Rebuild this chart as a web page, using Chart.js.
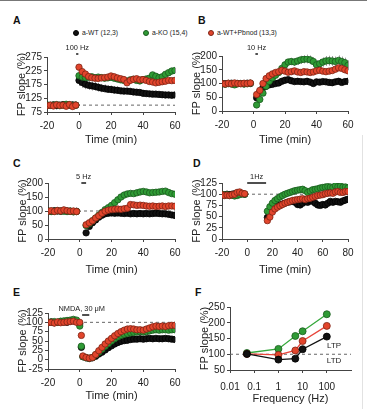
<!DOCTYPE html>
<html lang="en">
<head>
<meta charset="UTF-8">
<title>FP slope panels</title>
<script src="https://cdn.jsdelivr.net/npm/chart.js"></script>
<style>
  body { margin: 0; background: #fff; font-family: "Liberation Sans", Arial, Helvetica, sans-serif; }
  #fig { position: relative; width: 367px; height: 409px; overflow: hidden; }
  #fig canvas { position: absolute; }
  .frameTop { position: absolute; left: 0; top: 0; width: 367px; height: 1px; background: #777; }
  .frameRight { position: absolute; left: 362px; top: 135px; width: 1px; height: 274px; background: #e2e2e2; }
  .letter { position: absolute; font-weight: bold; font-size: 10.5px; line-height: 11px; color: #111; }
  .leg { position: absolute; top: 29px; font-size: 6.8px; line-height: 8px; color: #222; white-space: nowrap; }
  .leg i { position: absolute; left: -9px; top: 1px; width: 6px; height: 6px; border-radius: 50%; box-sizing: border-box; }
</style>
</head>
<body>
<div id="fig">
  <div class="frameTop"></div>
  <div class="frameRight"></div>
  <div class="letter" style="left:13px;top:15px">A</div>
  <div class="letter" style="left:198px;top:15px">B</div>
  <div class="letter" style="left:13px;top:158px">C</div>
  <div class="letter" style="left:193px;top:158px">D</div>
  <div class="letter" style="left:13px;top:287px">E</div>
  <div class="letter" style="left:195px;top:287px">F</div>
</div>

<script>
// ---------- data ----------
const seriesNames = ['a-WT (12,3)', 'a-KO (15,4)', 'a-WT+Pbnod (13,3)'];
const baselineLevel = 100;

// A - 100 Hz
const timeA = [-20,-18,-16,-14,-12,-10,-8,-6,-4,-2,0,2,4,6,8,10,12,14,16,18,20,22,24,26,28,30,32,34,36,38,40,42,44,46,48,50,52,54,56,58,60];
const wtA = [100,99,101,98,100,102,99,100,101,100, 190,182,176,172,170,168,165,162,160,158,157,155,154,152,151,151,150,148,147,146,143,142,141,140,140,139,138,137,137,136,137];
const koA = [101,99,100,102,98,100,103,101,99,100, 207,202,200,201,203,200,202,200,198,199,201,198,195,192,190,187,192,194,190,188,193,195,198,210,205,200,203,212,218,224,226];
const pbA = [98,100,97,101,99,100,96,102,95,100, 238,222,213,204,200,198,197,199,200,202,206,203,199,196,193,181,190,194,196,192,193,190,186,184,181,183,185,187,190,189,190];
const wtErrA = [4,4,4,4,4,4,4,4,4,4, 20,19,18,17,17,16,16,15,15,14,14,13,13,13,12,12,12,11,11,11,11,10,10,10,10,10,9,9,9,9,9];
const koErrA = [4,4,4,4,4,4,4,4,4,4, 9,9,8,8,8,8,8,8,8,8,8,8,8,8,8,9,9,9,9,9,9,9,9,10,10,10,10,10,10,10,10];

// B - 10 Hz
const timeB = [-20,-18,-16,-14,-12,-10,-8,-6,-4,-2,2,4,6,8,10,12,14,16,18,20,22,24,26,28,30,32,34,36,38,40,42,44,46,48,50,52,54,56,58,60];
const wtB = [100,99,100,101,99,100,100,99,101,100, 48,70,85,90,95,97,100,102,108,112,114,110,107,108,107,106,108,105,100,106,105,107,106,104,103,106,108,104,107,108];
const koB = [99,97,100,98,95,99,100,98,99,101, 22,42,65,90,108,120,130,140,155,168,178,180,178,182,186,188,189,186,180,168,172,178,182,183,182,180,184,180,176,166];
const pbB = [100,98,101,99,102,100,99,101,100,102, 60,75,100,118,128,135,140,143,148,145,141,143,146,142,140,143,142,140,142,146,148,145,143,145,147,152,157,155,150,146];
const wtErrB = [3,3,3,3,3,3,3,3,3,3, 5,5,5,5,5,5,5,5,6,6,6,6,6,6,6,6,6,6,7,7,7,7,7,7,7,7,7,7,7,7];
const koErrB = [4,4,4,4,4,4,4,4,4,4, 6,6,6,6,7,7,8,8,9,10,12,13,14,14,15,15,16,16,16,17,17,17,18,18,18,18,18,18,18,18];

// C - 5 Hz
const timeC = [-20,-18,-16,-14,-12,-10,-8,-6,-4,-2,4,6,8,10,12,14,16,18,20,22,24,26,28,30,32,34,36,38,40,42,44,46,48,50,52,54,56,58,60];
const wtC = [100,99,101,100,99,102,100,99,98,99, 22,45,58,68,78,85,90,92,93,92,93,92,91,92,90,91,90,91,90,91,90,91,92,91,90,90,88,86,84];
const koC = [100,98,99,101,100,99,98,100,97,98, 48,55,65,75,85,95,105,112,120,130,140,150,157,161,163,162,165,168,170,168,165,166,167,168,170,171,166,162,160];
const pbC = [99,101,98,102,100,104,101,99,100,98, 51,58,65,75,83,92,99,103,105,106,107,106,108,110,123,122,120,121,120,118,117,118,116,117,118,116,118,118,117];

// D - 1 Hz
const timeD = [-20,-18,-16,-14,-12,-10,-8,-6,-4,-2,16,18,20,22,24,26,28,30,32,34,36,38,40,42,44,46,48,50,52,54,56,58,60,62,64,66,68,70,72,74,76,78,80];
const wtD = [99,98,100,99,100,101,100,102,101,100, 48,58,65,70,73,76,78,80,82,83,84,82,77,76,80,84,82,85,84,80,76,75,77,76,80,84,82,84,83,82,85,87,89];
const koD = [100,98,99,97,98,96,97,99,101,100, 62,72,80,86,90,94,97,100,102,104,106,108,109,110,111,108,104,107,110,111,112,114,115,116,117,116,115,119,117,118,116,116,114];
const pbD = [99,97,98,97,99,100,104,105,102,101, 41,49,60,67,71,74,77,80,82,84,86,87,88,89,90,88,90,91,93,95,97,98,99,101,102,103,102,105,106,104,104,106,106];

// E - NMDA 30 uM
const timeE = [-20,-18,-16,-14,-12,-10,-8,-6,-4,-2,0,1,2,4,6,8,10,12,14,16,18,20,22,24,26,28,30,32,34,36,38,40,42,44,46,48,50,52,54,56,58,60];
const wtE = [100,101,99,100,102,101,100,103,104,102, 96,33,8,5,3,5,9,15,20,26,32,37,42,46,49,51,52,54,55,55,56,55,56,57,56,57,56,56,57,56,55,54];
const koE = [100,101,102,100,103,104,105,106,108,106, 90,36,8,5,4,6,13,20,28,36,43,50,56,61,65,68,70,72,73,74,75,74,75,77,79,80,79,80,80,79,80,80];
const pbE = [99,100,98,101,99,100,101,102,103,100, 100,65,10,6,4,6,14,24,33,42,50,57,64,70,75,79,82,83,82,80,80,79,82,85,88,90,89,90,89,91,92,92];
const wtErrE = [3,3,3,3,3,3,3,3,3,3, 5,6,5,4,4,4,5,6,6,7,7,7,8,8,8,8,8,8,8,8,8,8,8,8,7,7,7,7,7,7,7,7];
const koErrE = [3,3,3,3,3,3,3,3,3,3, 6,6,5,4,4,4,5,5,6,6,6,6,7,7,7,7,7,7,7,7,7,7,7,7,7,7,7,7,7,7,7,7];
const pbErrE = [3,3,3,3,3,3,3,3,3,3, 4,6,5,4,4,4,5,5,6,6,6,6,6,6,6,6,6,6,6,6,6,6,6,6,6,6,6,6,6,6,6,6];

// F - summary vs stimulation frequency
const freqF = [0.05, 1, 5, 10, 100];
const freqTicks = [0.01, 0.1, 1, 10, 100];
const wtF = [101, 83, 86, 116, 156];
const koF = [104, 117, 158, 173, 227];
const pbF = [101, 98, 112, 142, 190];
const wtErrF = [3, 4, 4, 4, 4];
const koErrF = [3, 4, 4, 6, 5];
const pbErrF = [3, 4, 4, 5, 5];

// ---------- styling ----------
const FONT = '"Liberation Sans", Arial, Helvetica, sans-serif';
Chart.defaults.font.family = FONT;
Chart.defaults.color = '#222';

const colWT = { fill: '#111111', edge: '#000000', line: '#111111' };
const colKO = { fill: '#2f9b35', edge: '#1b5a1e', line: '#35a83b' };
const colPB = { fill: '#e2452c', edge: '#7d2415', line: '#e8453a' };

// legend row (HTML)
const fig = document.getElementById('fig');
const legendLeft = [82, 152, 217];
[colWT, colKO, colPB].forEach((c, i) => {
  const d = document.createElement('div');
  d.className = 'leg';
  d.style.left = legendLeft[i] + 'px';
  d.innerHTML = '<i style="background:' + c.fill + ';border:0.8px solid ' + c.edge + '"></i>' + seriesNames[i];
  fig.appendChild(d);
});

function pts(xs, ys) { return xs.map((x, i) => ({ x: x, y: ys[i] })); }

function markers(i, xs, ys, err, col, order) {
  return {
    label: seriesNames[i], data: pts(xs, ys), err: err,
    showLine: false, backgroundColor: col.fill, borderColor: col.edge,
    borderWidth: 0.8, pointRadius: 3.2, pointHoverRadius: 3.2, order: order
  };
}

function refLine(x0, x1) {
  return {
    label: 'ref', data: [{ x: x0, y: baselineLevel }, { x: x1, y: baselineLevel }],
    showLine: true, borderColor: '#666', borderWidth: 1, borderDash: [3, 3],
    pointRadius: 0, order: 9
  };
}

// error bars under the points, stimulus bar + label, text notes
const extras = {
  id: 'extras',
  beforeDatasetsDraw(chart) {
    const ctx = chart.ctx, ys = chart.scales.y;
    ctx.save();
    ctx.strokeStyle = '#9c9c9c';
    ctx.lineWidth = 1;
    chart.data.datasets.forEach((ds, i) => {
      if (!ds.err) return;
      const meta = chart.getDatasetMeta(i);
      meta.data.forEach((pt, j) => {
        const e = ds.err[j];
        if (!e) return;
        const v = ds.data[j].y;
        const x = Math.round(pt.x) + 0.5;
        ctx.beginPath();
        ctx.moveTo(x, ys.getPixelForValue(v - e));
        ctx.lineTo(x, ys.getPixelForValue(v + e));
        ctx.stroke();
      });
    });
    ctx.restore();
  },
  afterDraw(chart, args, opts) {
    const ctx = chart.ctx, xs = chart.scales.x, ys = chart.scales.y, area = chart.chartArea;
    ctx.save();
    ctx.fillStyle = '#222';
    ctx.strokeStyle = '#222';
    ctx.textAlign = 'center';
    ctx.textBaseline = 'middle';
    if (opts.stim) {
      const s = opts.stim;
      const x0 = xs.getPixelForValue(s.from), x1 = xs.getPixelForValue(s.to);
      const yb = area.top + s.barDy;
      ctx.lineWidth = 1.6;
      ctx.beginPath();
      ctx.moveTo(x0, yb);
      ctx.lineTo(x1, yb);
      ctx.stroke();
      ctx.font = '7.4px ' + FONT;
      ctx.fillText(s.text, (x0 + x1) / 2 + (s.textDx || 0), area.top + s.textDy);
    }
    (opts.notes || []).forEach(n => {
      ctx.font = '8px ' + FONT;
      ctx.fillText(n.text, xs.getPixelForValue(n.x), ys.getPixelForValue(n.y));
    });
    ctx.restore();
  }
};

const Y_W = 33, PAD_T = 20, PAD_R = 12;

function makePanel(box, xScale, yScale, datasets, extraOpts) {
  const xH = Math.round(box.titleY - box.b + 6.6);
  const cv = document.createElement('canvas');
  cv.width = Y_W + (box.r - box.l) + PAD_R;
  cv.height = PAD_T + (box.b - box.t) + xH;
  cv.style.left = (box.l - Y_W) + 'px';
  cv.style.top = (box.t - PAD_T) + 'px';
  fig.appendChild(cv);

  const axisCommon = {
    grid: { display: true, drawOnChartArea: false, color: '#444', tickLength: 3 },
    border: { display: true, color: '#444', width: 1 }
  };
  xScale = Object.assign({}, axisCommon, xScale, {
    ticks: Object.assign({ font: { size: 10 }, color: '#222', autoSkip: false, maxRotation: 0, padding: 5 }, xScale.ticks),
    title: Object.assign({ display: true, font: { size: 11 }, color: '#222', padding: 0 }, xScale.title),
    afterFit(s) { s.height = xH; }
  });
  yScale = Object.assign({}, axisCommon, yScale, {
    ticks: Object.assign({ font: { size: 10 }, color: '#222', padding: 2, autoSkip: false }, yScale.ticks),
    title: { display: true, text: 'FP slope (%)', font: { size: 11 }, color: '#222', padding: 1 },
    afterFit(s) { s.width = Y_W; }
  });

  return new Chart(cv.getContext('2d'), {
    type: 'scatter',
    data: { datasets: datasets },
    options: {
      responsive: false, animation: false, events: [],
      layout: { padding: { top: PAD_T, right: PAD_R, left: 0, bottom: 0 } },
      scales: { x: xScale, y: yScale },
      plugins: { legend: { display: false }, tooltip: { enabled: false }, extras: extraOpts }
    },
    plugins: [extras]
  });
}

function timeAxis(max) {
  return { type: 'linear', min: -20, max: max, ticks: { stepSize: 20 }, title: { text: 'Time (min)' } };
}

// A
makePanel({ l: 47, t: 57, r: 175, b: 112, titleY: 140 },
  timeAxis(60), { min: 75, max: 275, ticks: { stepSize: 50 } },
  [markers(2, timeA, pbA, null, colPB, 0), markers(1, timeA, koA, koErrA, colKO, 1),
   markers(0, timeA, wtA, wtErrA, colWT, 2), refLine(-20, 60)],
  { stim: { from: -1.8, to: -0.4, text: '100 Hz', barDy: -3, textDy: -9 } });

// B
makePanel({ l: 222, t: 56, r: 348, b: 111, titleY: 140 },
  timeAxis(60), { min: 0, max: 200, ticks: { stepSize: 50 } },
  [markers(2, timeB, pbB, null, colPB, 0), markers(1, timeB, koB, koErrB, colKO, 1),
   markers(0, timeB, wtB, wtErrB, colWT, 2)],
  { stim: { from: 1.2, to: 2.8, text: '10 Hz', barDy: -2, textDy: -8 } });

// C
makePanel({ l: 48, t: 183, r: 175, b: 239, titleY: 270 },
  timeAxis(60), { min: 0, max: 200, ticks: { stepSize: 50 } },
  [markers(2, timeC, pbC, null, colPB, 0), markers(1, timeC, koC, null, colKO, 1),
   markers(0, timeC, wtC, null, colWT, 2), refLine(-20, 60)],
  { stim: { from: 1, to: 4, text: '5 Hz', barDy: 0, textDy: -6 } });

// D
makePanel({ l: 222, t: 183, r: 348, b: 239, titleY: 270 },
  timeAxis(80), { min: 0, max: 125, ticks: { stepSize: 25 } },
  [markers(2, timeD, pbD, null, colPB, 0), markers(1, timeD, koD, null, colKO, 1),
   markers(0, timeD, wtD, null, colWT, 2), refLine(-20, 80)],
  { stim: { from: 0, to: 15, text: '1Hz', barDy: 0, textDy: -6 } });

// E
makePanel({ l: 48, t: 313, r: 175, b: 369, titleY: 396 },
  timeAxis(60), { min: -25, max: 125, ticks: { stepSize: 25 } },
  [markers(2, timeE, pbE, pbErrE, colPB, 0), markers(1, timeE, koE, koErrE, colKO, 1),
   markers(0, timeE, wtE, wtErrE, colWT, 2), refLine(-20, 60)],
  { stim: { from: 1.5, to: 6, text: 'NMDA, 30 \u03bcM', textDx: -4, barDy: 2, textDy: -4 } });

// F
function freqSeries(i, ys, err, col, order) {
  return {
    label: seriesNames[i], data: pts(freqF, ys), err: err, showLine: true,
    borderColor: col.line, borderWidth: 1.3, pointBackgroundColor: col.fill,
    pointBorderColor: col.edge, pointBorderWidth: 0.8, pointRadius: 3.5, order: order
  };
}
makePanel({ l: 230, t: 307, r: 351, b: 370, titleY: 399 },
  {
    type: 'logarithmic', min: 0.01, max: 1000,
    afterBuildTicks(s) { s.ticks = freqTicks.map(v => ({ value: v })); },
    ticks: { padding: 8, callback: v => String(v) },
    title: { text: 'Frequency (Hz)' }
  },
  { min: 50, max: 250, ticks: { stepSize: 50 } },
  [freqSeries(0, wtF, wtErrF, colWT, 0), freqSeries(2, pbF, pbErrF, colPB, 1),
   freqSeries(1, koF, koErrF, colKO, 2), refLine(0.01, 1000)],
  { notes: [{ x: 200, y: 127, text: 'LTP' }, { x: 200, y: 80, text: 'LTD' }] });
</script>
</body>
</html>
